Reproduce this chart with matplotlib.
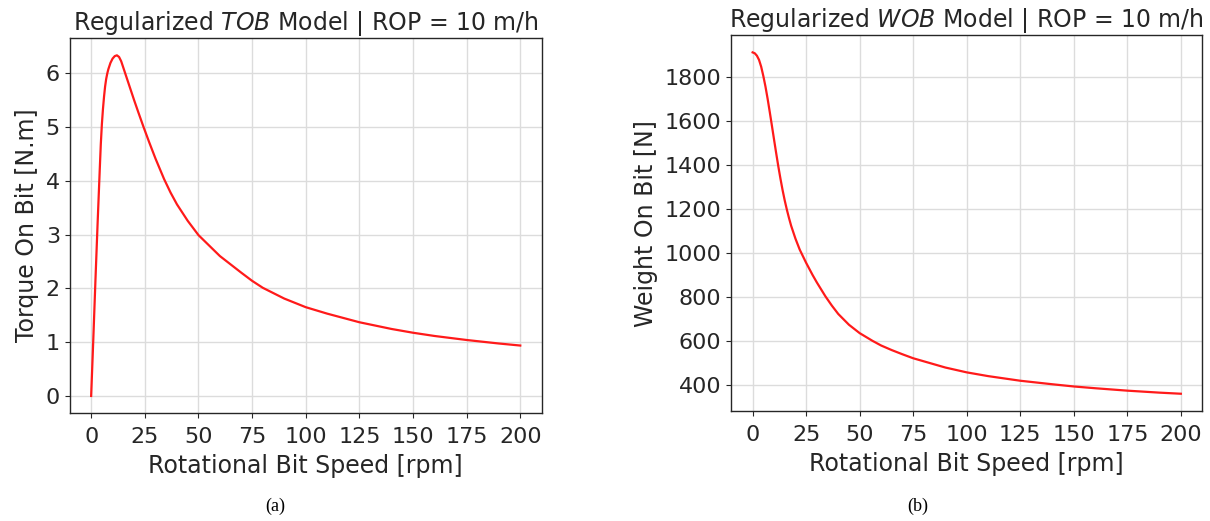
import matplotlib
matplotlib.use("Agg")
import matplotlib.pyplot as plt

# ---- data ----
tob_rpm = [0, 1, 2, 3, 4, 4.5, 5, 5.5, 6, 6.5, 7, 7.5, 8, 9, 10, 11, 12, 13, 14,
           15, 16, 18, 20, 22, 24.4, 27, 30, 34, 37, 40, 45, 50, 60, 70, 75, 80,
           90, 100, 110, 125, 140, 150, 160, 175, 190, 200]
tob_val = [0.0, 1.05, 2.15, 3.2, 4.2, 4.68, 5.05, 5.33, 5.56, 5.75, 5.89, 5.99,
           6.07, 6.19, 6.27, 6.315, 6.33, 6.3, 6.22, 6.1, 5.98, 5.74, 5.5, 5.27,
           5.0, 4.72, 4.41, 4.03, 3.78, 3.56, 3.255, 2.99, 2.6, 2.29, 2.14, 2.01,
           1.81, 1.65, 1.53, 1.37, 1.245, 1.175, 1.115, 1.04, 0.975, 0.937]

wob_rpm = [0, 1, 2, 3, 4, 5, 6, 7, 8, 9, 10, 11, 12, 13, 14, 15, 16, 17, 18, 20,
           22, 25, 28, 30, 34, 37, 40, 45, 50, 56, 60, 65, 70, 75, 80, 90, 100,
           110, 125, 140, 150, 160, 175, 190, 200]
wob_val = [1910, 1906, 1895, 1876, 1845, 1803, 1755, 1700, 1640, 1578, 1515, 1453,
           1393, 1337, 1285, 1238, 1196, 1158, 1123, 1065, 1015, 955, 900, 866,
           803, 761, 723, 674, 636, 601, 580, 559, 540, 522, 508, 480, 458, 441,
           420, 404, 394, 386, 375, 366, 361]

xticks = [0, 25, 50, 75, 100, 125, 150, 175, 200]

fig = plt.figure(figsize=(12.1, 5.21), dpi=100)
ax1 = fig.add_axes([0.0576, 0.2073, 0.3901, 0.7192])
ax2 = fig.add_axes([0.6043, 0.2115, 0.3893, 0.7207])

tfs = 16
lfs = 17
txt = "#262626"
for ax, x, y, ttl, yl, yt in [
    (ax1, tob_rpm, tob_val, r"Regularized $\it{TOB}$ Model | ROP = 10 m/h",
     "Torque On Bit [N.m]", [0, 1, 2, 3, 4, 5, 6]),
    (ax2, wob_rpm, wob_val, r"Regularized $\it{WOB}$ Model | ROP = 10 m/h",
     "Weight On Bit [N]", [400, 600, 800, 1000, 1200, 1400, 1600, 1800]),
]:
    ax.plot(x, y, color="#ff1a1a", lw=1.6)
    ax.set_xticks(xticks)
    ax.set_yticks(yt)
    ax.grid(True, color="#dcdcdc", lw=1.0)
    ax.set_axisbelow(True)
    ax.tick_params(labelsize=tfs, colors=txt, labelcolor=txt)
    ax.tick_params(axis="x", pad=6.5)
    ax.set_title(ttl, fontsize=lfs, color=txt, pad=5)
    ax.set_xlabel("Rotational Bit Speed [rpm]", fontsize=lfs, color=txt, labelpad=5)
    ax.set_ylabel(yl, fontsize=lfs, color=txt, labelpad=5)
    for s in ax.spines.values():
        s.set_color(txt)
        s.set_linewidth(1.0)

fig.text(275 / 1210, 1 - 506 / 521, "(a)", family="Liberation Serif", fontsize=13,
         ha="center", va="center")
fig.text(918 / 1210, 1 - 506 / 521, "(b)", family="Liberation Serif", fontsize=13,
         ha="center", va="center")

fig.savefig("out.png", dpi=100)
